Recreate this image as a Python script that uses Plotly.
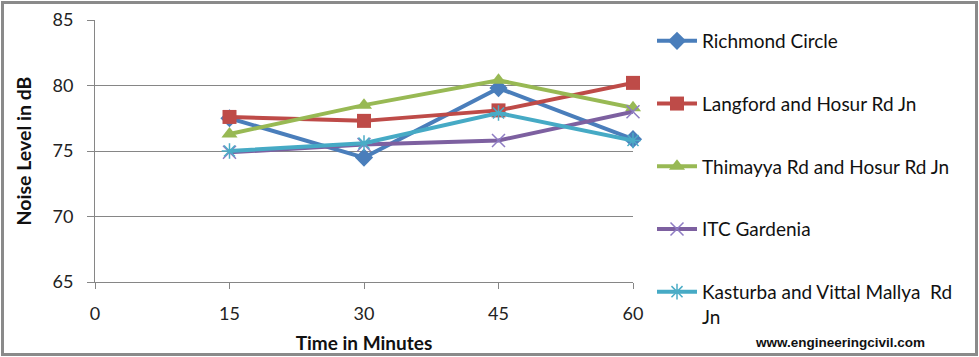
import plotly.graph_objects as go

minutes = [15, 30, 45, 60]
richmond = [77.5, 74.5, 79.8, 75.9]
langford = [77.6, 77.3, 78.1, 80.2]
thimayya = [76.3, 78.5, 80.4, 78.3]
itc = [74.9, 75.5, 75.8, 78.0]
kasturba = [75.0, 75.6, 77.9, 75.8]

names = ["Richmond Circle", "Langford and Hosur Rd Jn", "Thimayya Rd and Hosur Rd Jn",
         "ITC Gardenia", "Kasturba and Vittal Mallya  Rd<br>Jn"]
series = [richmond, langford, thimayya, itc, kasturba]
colors = ["#4A7EBB", "#BE4B48", "#98B954", "#7D60A0", "#46AAC5"]
symbols = ["diamond", "square", "triangle-up", "x-thin-open", "asterisk-open"]
sizes = [14, 14, 14, 13, 13]
mcolors = ["#4A7EBB", "#BE4B48", "#98B954", "#8E7CC3", "#4BACC6"]

W, H = 979, 357
L, R, T, B = 95, 346, 20, 75
pw, ph = W - L - R, H - T - B

fig = go.Figure()
for i, (nm, ys) in enumerate(zip(names, series)):
    thin = symbols[i] in ("x-thin-open", "asterisk-open")
    fig.add_trace(go.Scatter(
        x=minutes, y=ys, name=nm, mode="lines+markers",
        line=dict(color=colors[i], width=4),
        marker=dict(symbol=symbols[i], size=sizes[i], color=mcolors[i],
                    line=dict(color=mcolors[i], width=1.5 if thin else 0)),
        cliponaxis=False, legendgroup=str(i),
    ))

font = "Lato"
e = 2.5  # border line centre offset from the page edge, px
fig.update_layout(
    width=W, height=H, margin=dict(l=L, r=R, t=T, b=B, autoexpand=False),
    paper_bgcolor="white", plot_bgcolor="white",
    font=dict(family=font, size=18, color="#222"),
    showlegend=True,
    legend=dict(x=(652 - L) / pw, xanchor="left", y=(H - B - 22) / ph, yanchor="top",
                font=dict(family=font, size=19, color="#111"), valign="top",
                tracegroupgap=35, bgcolor="rgba(0,0,0,0)", itemwidth=40, maxheight=400),
    xaxis=dict(range=[0, 60], tickvals=[0, 15, 30, 45, 60], showgrid=False,
               showline=True, linecolor="#868686", linewidth=1,
               ticks="outside", ticklen=6, tickcolor="#868686",
               ticklabelstandoff=9, zeroline=False,
               title=dict(text="<b>Time in Minutes</b>", font=dict(family=font, size=19, color="#111"), standoff=14)),
    yaxis=dict(range=[65, 85], tickvals=[65, 70, 75, 80, 85], showgrid=True,
               gridcolor="#868686", gridwidth=1,
               showline=True, linecolor="#868686", linewidth=1,
               ticks="outside", ticklen=7, tickcolor="#868686",
               ticklabelstandoff=10, zeroline=False,
               title=dict(text="<b>Noise Level in dB</b>", font=dict(family=font, size=19.5, color="#111"), standoff=15)),
    shapes=[dict(type="rect", xref="paper", yref="paper", layer="above",
                 x0=(e - L) / pw, x1=(W - e - L) / pw,
                 y0=-(B - e) / ph, y1=1 + (T - e) / ph,
                 line=dict(color="#8a8a8a", width=3), fillcolor="rgba(0,0,0,0)")],
    annotations=[dict(text="<b>www.engineeringcivil.com</b>", xref="paper", yref="paper",
                      x=(840 - L) / pw, y=-(342 - (H - B)) / ph, xanchor="center", yanchor="middle",
                      showarrow=False, font=dict(family="Arial", size=13.5, color="#111"))],
)

fig.write_html("out.html", config={"displayModeBar": False},
               post_script="document.body.style.margin='0';")
